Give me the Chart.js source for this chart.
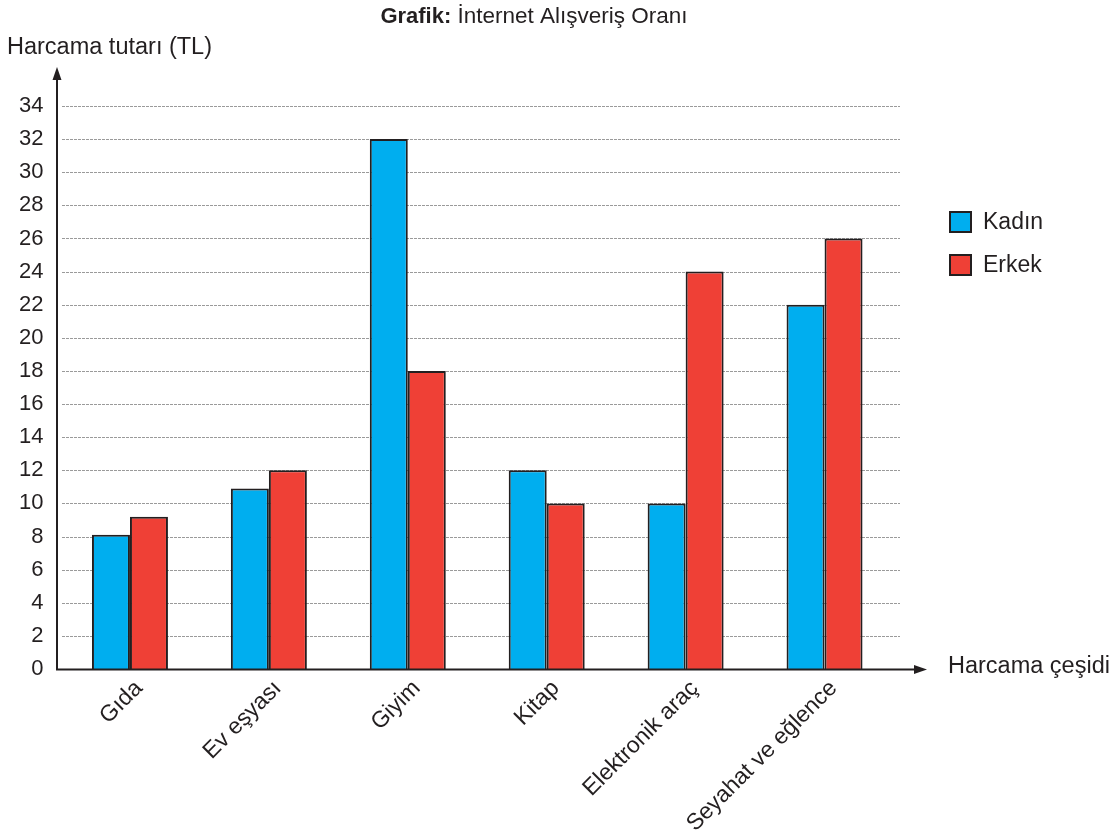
<!DOCTYPE html>
<html>
<head>
<meta charset="utf-8">
<script src="https://cdn.jsdelivr.net/npm/chart.js@4"></script>
<style>
  html, body { margin: 0; padding: 0; background: #fff; }
  #wrap { width: 1120px; height: 834px; position: relative; }
</style>
</head>
<body>
<div id="wrap"><canvas id="myChart"></canvas></div>
<script>
const categories = ["Gıda", "Ev eşyası", "Giyim", "Kitap", "Elektronik araç", "Seyahat ve eğlence"];
const kadin = [8.1, 10.9, 32, 12, 10, 22];
const erkek = [9.2, 12, 18, 10, 24, 26];
const seriesNames = ["Kadın", "Erkek"];
const seriesColors = ["#00aeef", "#ef4036"];

const FONT = "'Liberation Sans', Arial, sans-serif";
const INK = "#231f20";

// axis arrows, dashed grid, titles and legend
const decor = {
  id: "decor",
  beforeDatasetsDraw(chart) {
    const { ctx, scales: { y } } = chart;
    ctx.save();
    ctx.strokeStyle = "#9a9a9a";
    ctx.lineWidth = 1;
    ctx.setLineDash([3, 1]);
    y.ticks.forEach((t) => {
      if (t.value === 0) return;
      const py = Math.round(y.getPixelForValue(t.value)) + 0.5;
      ctx.beginPath();
      ctx.moveTo(62, py);
      ctx.lineTo(900, py);
      ctx.stroke();
    });
    ctx.restore();
  },
  afterDraw(chart) {
    const { ctx, scales: { y } } = chart;
    const x0 = 57;
    const y0 = Math.round(y.getPixelForValue(0)) + 0.5;
    ctx.save();
    ctx.strokeStyle = INK;
    ctx.fillStyle = INK;
    ctx.lineWidth = 2;
    ctx.setLineDash([]);
    ctx.beginPath();
    ctx.moveTo(x0, y0);
    ctx.lineTo(x0, 76);
    ctx.moveTo(x0 - 1, y0);
    ctx.lineTo(918, y0);
    ctx.stroke();
    ctx.beginPath();
    ctx.moveTo(x0, 67);
    ctx.lineTo(x0 - 4.5, 80);
    ctx.lineTo(x0 + 4.5, 80);
    ctx.closePath();
    ctx.fill();
    ctx.beginPath();
    ctx.moveTo(927, y0);
    ctx.lineTo(914, y0 - 4.5);
    ctx.lineTo(914, y0 + 4.5);
    ctx.closePath();
    ctx.fill();

    ctx.textBaseline = "middle";
    ctx.textAlign = "left";
    ctx.font = "23.5px " + FONT;
    ctx.fillText("Harcama tutarı (TL)", 7, 48);
    ctx.fillText("Harcama çeşidi", 948, 667);

    // title
    const a = "Grafik:";
    const b = " İnternet Alışveriş Oranı";
    ctx.font = "bold 22px " + FONT;
    const wa = ctx.measureText(a).width;
    ctx.font = "22.5px " + FONT;
    const wb = ctx.measureText(b).width;
    const sx = 534 - (wa + wb) / 2;
    ctx.font = "bold 22px " + FONT;
    ctx.fillText(a, sx, 17);
    ctx.font = "22.5px " + FONT;
    ctx.fillText(b, sx + wa, 17);

    // legend
    ctx.font = "23px " + FONT;
    ctx.lineWidth = 2;
    seriesNames.forEach((name, i) => {
      const ly = 212 + i * 43;
      ctx.fillStyle = seriesColors[i];
      ctx.fillRect(950, ly, 21, 20);
      ctx.strokeRect(950, ly, 21, 20);
      ctx.fillStyle = INK;
      ctx.fillText(name, 983, ly + 11);
    });
    ctx.restore();
  }
};

new Chart(document.getElementById("myChart"), {
  type: "bar",
  data: {
    labels: categories,
    datasets: [kadin, erkek].map((data, i) => ({
      label: seriesNames[i],
      data: data,
      backgroundColor: seriesColors[i],
      borderColor: INK,
      borderWidth: 2,
      categoryPercentage: 0.547,
      barPercentage: 1,
    })),
  },
  options: {
    responsive: true,
    maintainAspectRatio: false,
    animation: false,
    devicePixelRatio: 1,
    layout: { padding: { top: 106, right: 226, left: 0, bottom: 0 } },
    plugins: { legend: { display: false }, tooltip: { enabled: false } },
    scales: {
      x: {
        grid: { display: false, drawTicks: false },
        border: { display: false },
        afterFit(scale) { scale.height = 165; },
        ticks: {
          color: INK,
          font: { family: FONT, size: 23 },
          minRotation: 45,
          maxRotation: 45,
          labelOffset: 9,
          padding: 6,
        },
      },
      y: {
        min: 0,
        max: 34,
        afterFit(scale) { scale.width = 60.5; },
        grid: { display: false, drawTicks: false },
        border: { display: false },
        ticks: {
          stepSize: 2,
          color: INK,
          font: { family: FONT, size: 22 },
          padding: 17,
        },
      },
    },
  },
  plugins: [decor],
});
</script>
</body>
</html>
